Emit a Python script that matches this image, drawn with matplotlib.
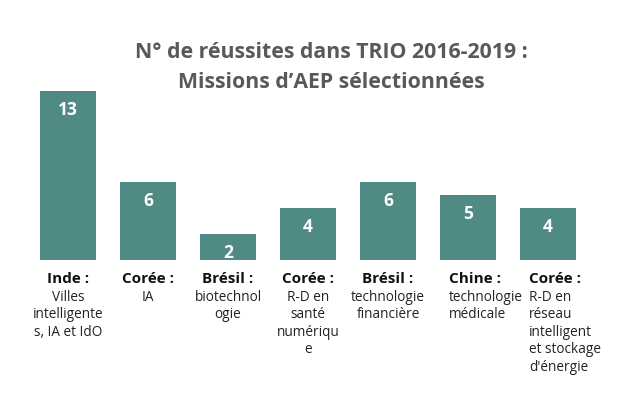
import matplotlib
matplotlib.use("Agg")
import matplotlib.pyplot as plt
from matplotlib.transforms import blended_transform_factory

countries = ["Inde :", "Corée :", "Brésil :", "Corée :", "Brésil :", "Chine :", "Corée :"]
topics = ["Villes\nintelligente\ns, IA et IdO", "IA", "biotechnol\nogie",
          "R-D en\nsanté\nnumériqu\ne", "technologie\nfinancière",
          "technologie\nmédicale", "R-D en\nréseau\nintelligent\net stockage\nd'énergie"]
values = [13, 6, 2, 4, 6, 5, 4]
aligns = ["center", "center", "center", "center", "center", "left", "left"]

W, H = 642, 395
fig = plt.figure(figsize=(W / 100, H / 100), dpi=100)
bottom_px, top_px = 260, 91
ax = fig.add_axes([0, (H - bottom_px) / H, 1, (bottom_px - top_px) / H])
ax.set_xlim(-(68 / 80), (W - 68) / 80)
ax.set_ylim(0, 13)
ax.axis("off")

color = "#4F8A84"
x = list(range(len(values)))
ax.bar(x, values, width=0.7, color=color)
for xi, v in zip(x, values):
    ax.annotate(str(v), (xi, v), xytext=(0, -19), textcoords="offset pixels",
                ha="center", va="center", color="white", fontsize=12.5,
                fontweight="bold", family="Open Sans")

tr = blended_transform_factory(ax.transData, fig.transFigure)
for xi, c, t, al in zip(x, countries, topics, aligns):
    xx = xi if al == "center" else xi - 0.24
    ax.text(xx, 1 - 279 / H, c, transform=tr, ha=al, va="center",
            fontsize=11, fontweight="bold", family="Open Sans", color="#111111")
    ax.text(xx, 1 - 290 / H, t, transform=tr, ha=al, va="top", multialignment=al,
            fontsize=9.8, family="Open Sans", color="#222222", linespacing=1.22)

fig.text(0.516, 1 - 53 / H, "N° de réussites dans TRIO 2016-2019 :", ha="center", va="center",
         fontsize=15.3, fontweight="bold", family="Open Sans", color="#595959")
fig.text(0.516, 1 - 82 / H, "Missions d’AEP sélectionnées", ha="center", va="center",
         fontsize=15.3, fontweight="bold", family="Open Sans", color="#595959")

fig.savefig("out.png", dpi=100)
